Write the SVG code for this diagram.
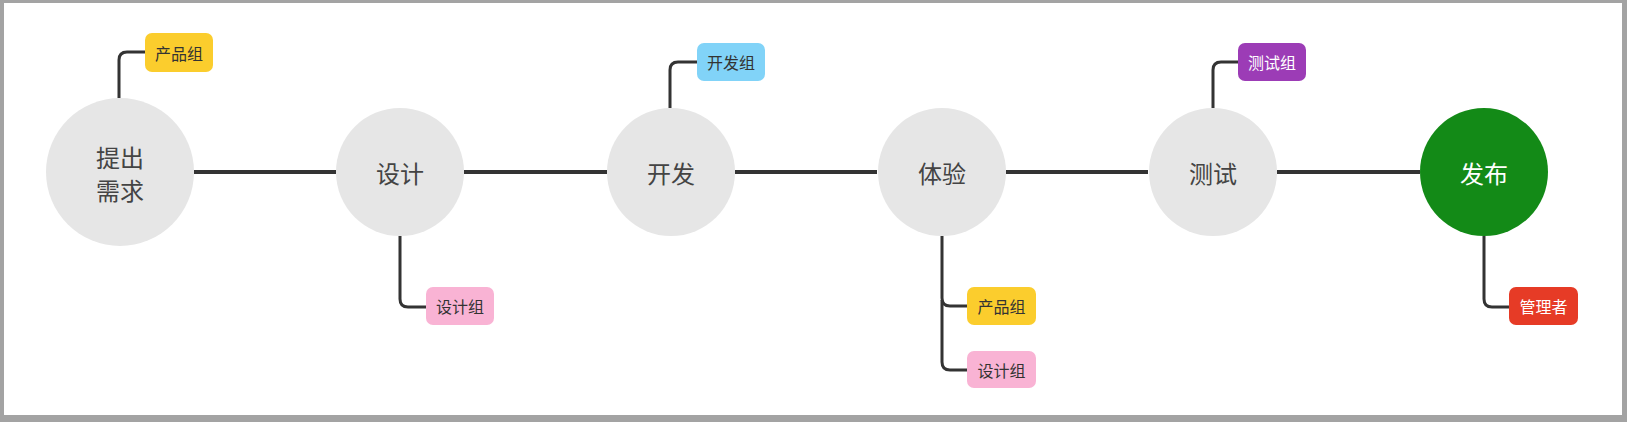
<svg xmlns="http://www.w3.org/2000/svg" width="1627" height="422" viewBox="0 0 1627 422">
<style>
.frame{fill:#a3a3a3}
.paper{fill:#ffffff}
.stage{fill:#e6e6e6}
.stage-text{font-family:"Noto Sans CJK SC","Noto Sans",sans-serif;font-size:24px;fill:#444;text-anchor:middle;dominant-baseline:central}
.tag-text{font-family:"Noto Sans CJK SC","Noto Sans",sans-serif;font-size:16px;text-anchor:middle;dominant-baseline:central}
.link{fill:none;stroke:#333;stroke-width:4;stroke-linejoin:round}
.branch{fill:none;stroke:#333;stroke-width:3;stroke-linejoin:round}
</style>
<rect class="frame" x="0" y="0" width="1627" height="422"/>
<rect class="paper" x="4" y="3" width="1618" height="412"/>
<g id="connectors">
<line class="link" x1="194" y1="172" x2="336" y2="172"/>
<line class="link" x1="464" y1="172" x2="607" y2="172"/>
<line class="link" x1="735" y1="172" x2="877" y2="172"/>
<line class="link" x1="1006" y1="172" x2="1148" y2="172"/>
<line class="link" x1="1277" y1="172" x2="1420" y2="172"/>
<path class="branch" d="M119 98 V60 Q119 52 127 52 H146"/>
<path class="branch" d="M400 236 V299 Q400 307 408 307 H427"/>
<path class="branch" d="M670 108 V70 Q670 62 678 62 H698"/>
<path class="branch" d="M942 236 V298 Q942 306 950 306 H968"/>
<path class="branch" d="M942 300 V362 Q942 370 950 370 H968"/>
<path class="branch" d="M1213 108 V70 Q1213 62 1221 62 H1239"/>
<path class="branch" d="M1484 236 V299 Q1484 307 1492 307 H1510"/>
</g>
<g id="n-tichu">
<circle class="stage" cx="120" cy="172" r="74"/>
<text class="stage-text" x="120" y="156">提出</text>
<text class="stage-text" x="120" y="189">需求</text>
</g>
<g id="n-sheji">
<circle class="stage" cx="400" cy="172" r="64"/>
<text class="stage-text" x="400" y="172">设计</text>
</g>
<g id="n-kaifa">
<circle class="stage" cx="671" cy="172" r="64"/>
<text class="stage-text" x="671" y="172">开发</text>
</g>
<g id="n-tiyan">
<circle class="stage" cx="942" cy="172" r="64"/>
<text class="stage-text" x="942" y="172">体验</text>
</g>
<g id="n-ceshi">
<circle class="stage" cx="1213" cy="172" r="64"/>
<text class="stage-text" x="1213" y="172">测试</text>
</g>
<g id="n-fabu">
<circle cx="1484" cy="172" r="64" fill="#138a17"/>
<text class="stage-text" x="1484" y="172" style="fill:#ffffff">发布</text>
</g>
<g id="t-chanpin1">
<rect x="145" y="33" width="68" height="39" rx="7" fill="#fbcd2d"/>
<text class="tag-text" x="179" y="52.5" fill="#333">产品组</text>
</g>
<g id="t-sheji1">
<rect x="426" y="287" width="68" height="38" rx="7" fill="#f9b3d4"/>
<text class="tag-text" x="460" y="306" fill="#333">设计组</text>
</g>
<g id="t-kaifa">
<rect x="697" y="43" width="68" height="38" rx="7" fill="#81d3f8"/>
<text class="tag-text" x="731" y="62" fill="#333">开发组</text>
</g>
<g id="t-chanpin2">
<rect x="967" y="287" width="69" height="38" rx="7" fill="#fbcd2d"/>
<text class="tag-text" x="1001.5" y="306" fill="#333">产品组</text>
</g>
<g id="t-sheji2">
<rect x="967" y="351" width="69" height="37" rx="7" fill="#f9b3d4"/>
<text class="tag-text" x="1001.5" y="369.5" fill="#333">设计组</text>
</g>
<g id="t-ceshi">
<rect x="1238" y="43" width="68" height="38" rx="7" fill="#9c3cb6"/>
<text class="tag-text" x="1272" y="62" fill="#ffffff">测试组</text>
</g>
<g id="t-guanli">
<rect x="1509" y="287" width="69" height="38" rx="7" fill="#e63b26"/>
<text class="tag-text" x="1543.5" y="306" fill="#ffffff">管理者</text>
</g>
</svg>
